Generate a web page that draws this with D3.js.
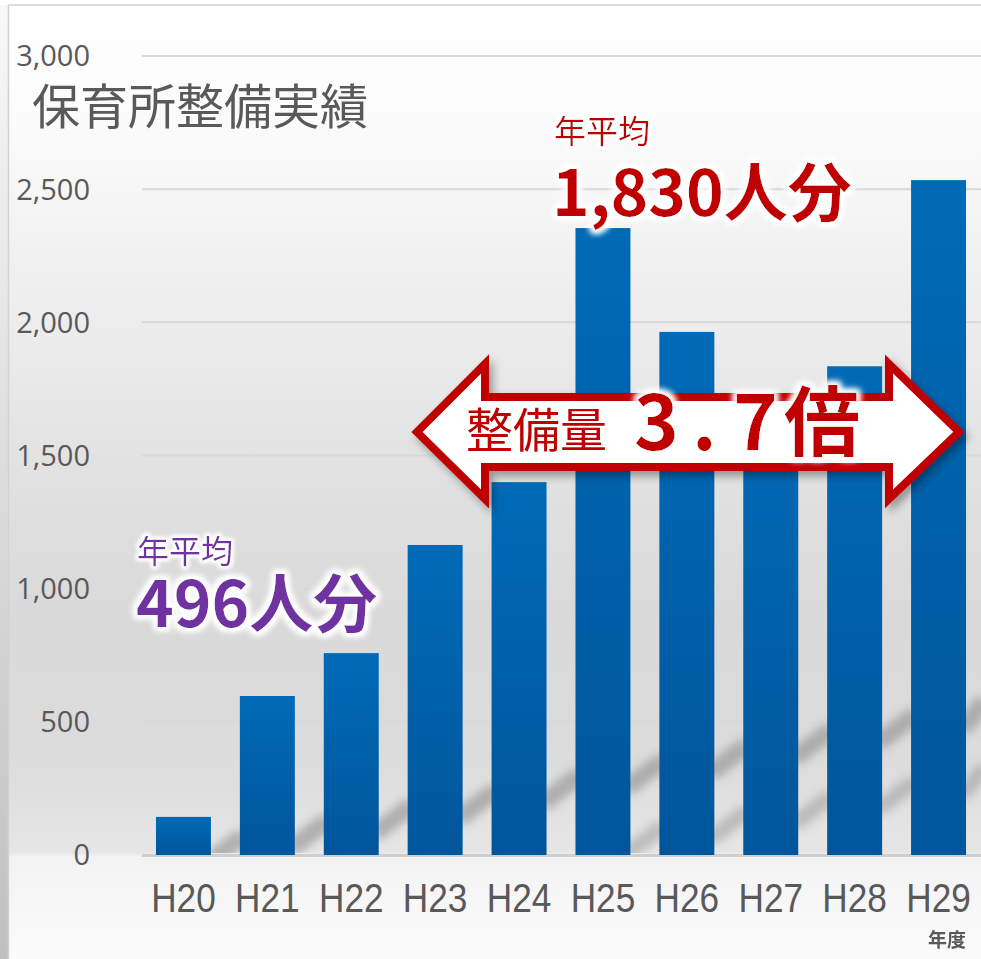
<!DOCTYPE html>
<html><head><meta charset="utf-8">
<script src="https://cdn.jsdelivr.net/npm/d3@7"></script>
<style>body{margin:0;background:#fff;overflow:hidden}</style>
</head><body>
<svg id="c" width="981" height="959"></svg>
<script>
// ---- data ----
const years = ["H20","H21","H22","H23","H24","H25","H26","H27","H28","H29"];
const values = [143, 597, 758, 1164, 1400, 2354, 1964, 1700, 1835, 2534];
const yTicks = [0, 500, 1000, 1500, 2000, 2500, 3000];
const title = "保育所整備実績";
const unitLabel = "年度";
const leftNote = ["年平均", "496人分"];
const rightNote = ["年平均", "1,830人分"];
const arrowNote = ["整備量", "3", ".", "7", "倍"];

const svg = d3.select("#c");
const defs = svg.append("defs");

// gradients
const panelG = defs.append("linearGradient").attr("id","panel")
  .attr("gradientUnits","userSpaceOnUse").attr("x1",0).attr("x2",0).attr("y1",6).attr("y2",959);
[[0,"#ffffff"],[0.12,"#fbfbfb"],[0.31,"#eeeeee"],[0.466,"#e3e3e3"],[0.644,"#d9d9d9"],
 [0.79,"#dcdcdc"],[0.888,"#e6e6e6"],[0.893,"#f3f3f3"],[1,"#fbfbfb"]]
 .forEach(s=>panelG.append("stop").attr("offset",s[0]).attr("stop-color",s[1]));
const stripG = defs.append("linearGradient").attr("id","strip").attr("x1",0).attr("x2",0).attr("y1",0).attr("y2",1);
stripG.append("stop").attr("offset",0).attr("stop-color","#f8f8f8");
stripG.append("stop").attr("offset",1).attr("stop-color","#c0c0c0");
const barG = defs.append("linearGradient").attr("id","bar").attr("x1",0).attr("x2",0).attr("y1",0).attr("y2",1);
barG.append("stop").attr("offset",0).attr("stop-color","#006ab7");
barG.append("stop").attr("offset",1).attr("stop-color","#00569b");

const blur = defs.append("filter").attr("id","blur").attr("x","-50%").attr("y","-50%").attr("width","200%").attr("height","200%");
blur.append("feGaussianBlur").attr("stdDeviation",4);

function haloFilter(id, r, sd) {
  const f = defs.append("filter").attr("id",id).attr("x","-20%").attr("y","-40%").attr("width","140%").attr("height","180%");
  f.append("feMorphology").attr("in","SourceAlpha").attr("operator","dilate").attr("radius",r).attr("result","d");
  f.append("feGaussianBlur").attr("in","d").attr("stdDeviation",sd).attr("result","b");
  f.append("feFlood").attr("flood-color","#ffffff").attr("result","w");
  f.append("feComposite").attr("in","w").attr("in2","b").attr("operator","in").attr("result","halo");
  const m = f.append("feMerge");
  m.append("feMergeNode").attr("in","halo");
  m.append("feMergeNode").attr("in","halo");
  m.append("feMergeNode").attr("in","SourceGraphic");
}
haloFilter("haloS", 2, 2);
haloFilter("haloL", 3, 3);

const shadow = defs.append("filter").attr("id","shadow").attr("x","-10%").attr("y","-30%").attr("width","120%").attr("height","160%");
shadow.append("feDropShadow").attr("dx",4).attr("dy",5).attr("stdDeviation",4)
  .attr("flood-color","#000").attr("flood-opacity",0.35);
defs.append("clipPath").attr("id","plotclip").append("rect")
  .attr("x",140).attr("y",56).attr("width",841).attr("height",797);

// background
svg.append("rect").attr("x",0).attr("y",0).attr("width",981).attr("height",959).attr("fill","#fff");
svg.append("rect").attr("x",9).attr("y",6).attr("width",972).attr("height",953).attr("fill","url(#panel)");
svg.append("rect").attr("x",0).attr("y",5).attr("width",8).attr("height",954).attr("fill","url(#strip)");
svg.append("line").attr("x1",8.5).attr("x2",8.5).attr("y1",5).attr("y2",959).attr("stroke","#d2d2d2").attr("stroke-width",1.5);
svg.append("line").attr("x1",8).attr("x2",981).attr("y1",5).attr("y2",5).attr("stroke","#dcdcdc").attr("stroke-width",2);

// scales
const x = d3.scaleBand().domain(years).range([141.5, 980.5]).paddingInner(0.345).paddingOuter(0.1725);
const y = d3.scaleLinear().domain([0, 3000]).range([855, 56]);
const bw = x.bandwidth();

// gridlines
svg.append("g").selectAll("line").data(yTicks.filter(d=>d>0)).join("line")
  .attr("x1",142).attr("x2",981).attr("y1",d=>y(d)).attr("y2",d=>y(d))
  .attr("stroke","#d9d9d9").attr("stroke-width",2);

// decorative wall shadows in gaps
const sh = svg.append("g").attr("clip-path","url(#plotclip)").attr("filter","url(#blur)");
years.forEach((yr,i)=>{
  const gx0 = x(yr)+bw, gx1 = i<years.length-1 ? x(years[i+1]) : 981;
  const cx = (gx0+gx1)/2;
  const yb = y(0) - 0.18*(cx-140) + 10;
  sh.append("line").attr("x1",gx0-4).attr("x2",gx1+4).attr("y1",yb+14).attr("y2",yb-14)
    .attr("stroke","#8e8e8e").attr("stroke-width",18).attr("opacity",0.6);
  if (yb+70 < y(0)-5) {
    sh.append("line").attr("x1",gx0-4).attr("x2",gx1+4).attr("y1",yb+80).attr("y2",yb+52)
      .attr("stroke","#969696").attr("stroke-width",16).attr("opacity",0.5);
  }
});

// baseline
svg.append("line").attr("x1",142).attr("x2",981).attr("y1",y(0)+0.5).attr("y2",y(0)+0.5)
  .attr("stroke","#cfcfcf").attr("stroke-width",3);

// bars
svg.append("g").selectAll("rect").data(years).join("rect")
  .attr("x",d=>x(d)).attr("width",bw)
  .attr("y",(d,i)=>y(values[i])).attr("height",(d,i)=>y(0)-y(values[i]))
  .attr("fill","url(#bar)");

// y axis
const ya = svg.append("g").attr("transform","translate(90,0)")
  .call(d3.axisLeft(y).tickValues(yTicks).tickSize(0).tickPadding(0).tickFormat(d3.format(",")));
ya.select(".domain").remove();
ya.selectAll("text").attr("font-family","'Open Sans', 'Noto Sans', sans-serif")
  .attr("font-size",29).attr("fill","#595959").attr("dy","0.34em");

// x axis
const xa = svg.append("g").attr("transform",`translate(0,${y(0)})`)
  .call(d3.axisBottom(x).tickSize(0).tickPadding(29));
xa.select(".domain").remove();
xa.selectAll("text").attr("font-family","'Liberation Sans Narrow','Liberation Sans', Arial, sans-serif")
  .attr("font-size",40).attr("fill","#595959").attr("transform","scale(0.88,1)");

// title
svg.append("text").attr("x",32).attr("y",124).text(title)
  .attr("font-family","'Noto Sans CJK JP', sans-serif").attr("font-size",48).attr("font-weight",400)
  .attr("fill","#595959");

// unit
svg.append("text").attr("x",966).attr("y",947).attr("text-anchor","end").text(unitLabel)
  .attr("font-family","'Noto Sans CJK JP', sans-serif").attr("font-size",19).attr("font-weight",700)
  .attr("fill","#595959");

function haloText(g, txt, xx, yy, size, weight, color, filt) {
  return g.append("text").attr("x",xx).attr("y",yy).text(txt)
    .attr("font-family","'Noto Sans CJK JP', sans-serif").attr("font-size",size).attr("font-weight",weight)
    .attr("fill",color).attr("filter",`url(#${filt})`);
}

// left (purple) note
const ln = svg.append("g");
haloText(ln, leftNote[0], 137, 563, 32, 400, "#7030a0", "haloS");
haloText(ln, leftNote[1], 136, 627, 64, 700, "#7030a0", "haloL");

// right (red) note
const rn = svg.append("g");
haloText(rn, rightNote[0], 554, 143, 32, 400, "#c00000", "haloS");
haloText(rn, rightNote[1], 552, 216, 64, 700, "#c00000", "haloL");

// double arrow
const ap = d3.path();
const pts = [[417,432],[485,364],[485,397],[889,397],[889,364],[959,432],[889,499],[889,467],[485,467],[485,499]];
ap.moveTo(...pts[0]); pts.slice(1).forEach(p=>ap.lineTo(...p)); ap.closePath();
svg.append("path").attr("d",ap.toString()).attr("fill","#fff").attr("stroke","#c00000")
  .attr("stroke-width",8).attr("stroke-linejoin","miter").attr("filter","url(#shadow)");

const an = svg.append("g");
an.append("text").attr("x",466).attr("y",447).text(arrowNote[0])
  .attr("font-family","'Noto Sans CJK JP', sans-serif").attr("font-size",47).attr("font-weight",400)
  .attr("fill","#c00000");
const big = an.append("text").attr("y",450)
  .attr("font-family","'Noto Sans CJK JP', sans-serif").attr("font-size",76).attr("font-weight",700)
  .attr("fill","#c00000").attr("filter","url(#haloL)");
const bigX = [634, 692, 733, 784];
arrowNote.slice(1).forEach((ch,i)=>{
  big.append("tspan").attr("x",bigX[i]).text(ch);
});
</script>
</body></html>
